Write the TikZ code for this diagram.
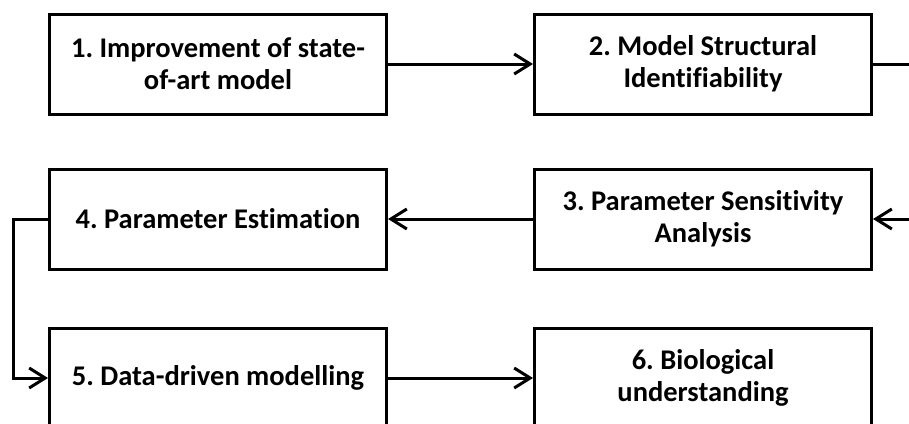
\documentclass[tikz,border=0pt]{standalone}
\usepackage{fontspec}
\setmainfont{Carlito}[Ligatures=NoCommon]
\usetikzlibrary{positioning,arrows.meta}
\frenchspacing
\tikzset{
  stage/.style={draw,line width=3pt,minimum width=337pt,minimum height=100pt,
            align=center,fill=white,
            font=\bfseries\fontsize{28.5}{32}\selectfont},
  flow/.style={-{Straight Barb[length=16pt,width=20pt,line width=3pt]},line width=3pt},
  link/.style={line width=3pt},
}

\begin{document}
\begin{tikzpicture}[x=1pt,y=-1pt,node distance=145pt]
  \useasboundingbox (0,0) rectangle (909,423);
  \fill[white] (0,0) rectangle (909,423);
  \clip (0,0) rectangle (909,423);
  \node[stage] (s1) at (218,64) {1. Improvement of state-\\of-art model};
  \node[stage,right=of s1]     (s2) {2. Model Structural\\Identifiability};
  \node[stage,below=52pt of s2] (s3) {3. Parameter Sensitivity\\Analysis};
  \node[stage,left=of s3]      (s4) {4. Parameter Estimation};
  \node[stage,below=56pt of s4] (s5) {5. Data-driven modelling};
  \node[stage,right=of s5]     (s6) {6. Biological\\understanding};
  % free ends running off the right side
  \coordinate[right=50pt of s2.east] (out2);
  \coordinate[right=50pt of s3.east] (in3);
  \draw[flow] (s1) -- (s2);
  \draw[link] (s2) -- (out2);
  \draw[flow] (in3) -- (s3);
  \draw[flow] (s3) -- (s4);
  \draw[flow] (s4.west) -- ++(-35pt,0) |- (s5.west);
  \draw[flow] (s5) -- (s6);
\end{tikzpicture}
\end{document}
